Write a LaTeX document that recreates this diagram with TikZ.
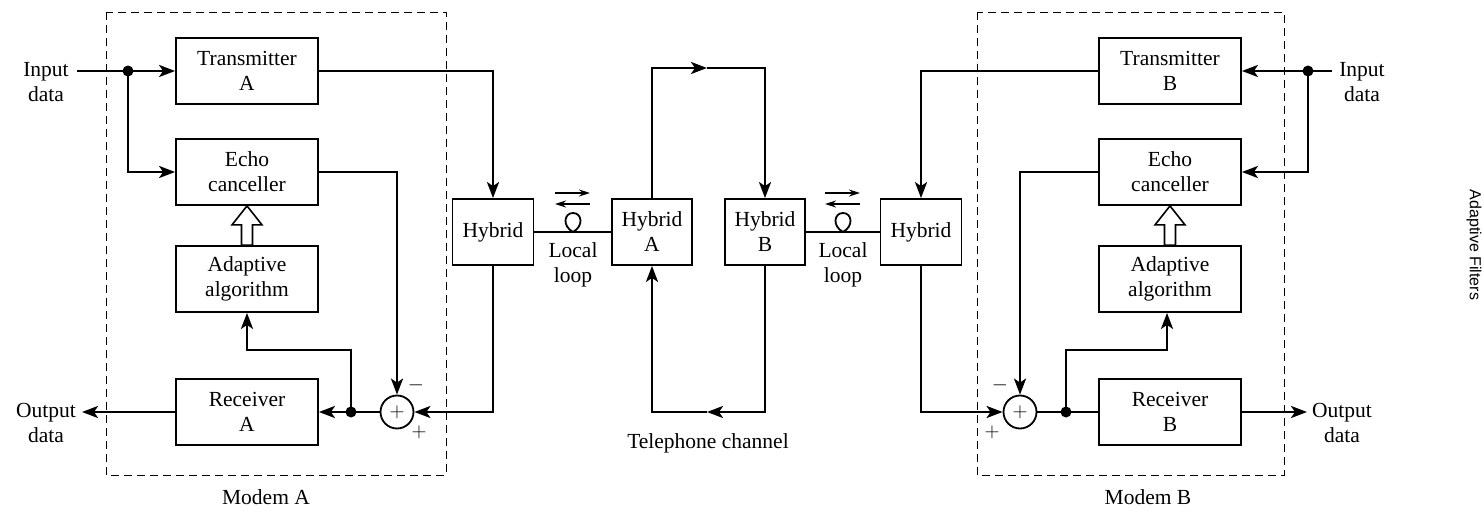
\documentclass[tikz,border=0pt]{standalone}
\usepackage{fontspec}
\setmainfont{Liberation Serif}
\newfontfamily\sidefont{Liberation Sans}
\usetikzlibrary{arrows.meta,calc}
\begin{document}
\begin{tikzpicture}[x=1pt,y=-1pt,
  every node/.style={font=\fontsize{21.5}{25}\selectfont},
  blk/.style={draw,line width=1.8pt,minimum width=142pt,minimum height=66pt,align=center,inner sep=0pt},
  hyb/.style={draw,line width=1.8pt,minimum width=81pt,minimum height=66pt,align=center,inner sep=0pt},
  sumc/.style={draw,circle,line width=1.8pt,minimum size=33pt,inner sep=0pt},
  lbl/.style={align=center,inner sep=0pt},
  conn/.style={line width=2.6pt,-{Stealth[length=16pt,width=12pt,inset=4pt]}},
  wire/.style={line width=2.6pt},
  thinw/.style={line width=1.8pt},
  tarr/.style={line width=1.4pt,-{Stealth[length=11pt,width=7pt]}},
  modem/.style={line width=0.8pt,dash pattern=on 8pt off 5pt},
  hollow/.style={line width=1.6pt,fill=white},
  dot/.style={circle,fill,inner sep=0pt,minimum size=11pt}]
\useasboundingbox (0,0) rectangle (1484,513);
% modem boxes
\draw[modem] (106,12) rectangle (446,475);
\draw[modem] (977,12) rectangle (1284,475);
\node[lbl] (mA) at (266,497) {Modem A};
\node[lbl] (mB) at (1148,497) {Modem B};
% modem A blocks
\node[blk] (tA) at (247,71) {Transmitter\\A};
\node[blk] (eA) at (247,172) {Echo\\canceller};
\node[blk] (aA) at (247,279) {Adaptive\\algorithm};
\node[blk] (rA) at (247,412) {Receiver\\A};
\node[sumc] (sA) at (397,412) {$+$};
% modem B blocks
\node[blk] (tB) at (1170,71) {Transmitter\\B};
\node[blk] (eB) at (1170,172) {Echo\\canceller};
\node[blk] (aB) at (1170,279) {Adaptive\\algorithm};
\node[blk] (rB) at (1170,412) {Receiver\\B};
\node[sumc] (sB) at (1020,412) {$+$};
% hybrids
\node[hyb] (hL) at (493,232) {Hybrid};
\node[hyb,minimum width=80pt] (hA) at (652,232) {Hybrid\\A};
\node[hyb,minimum width=80pt] (hB) at (765,232) {Hybrid\\B};
\node[hyb] (hR) at (921,232) {Hybrid};
% labels
\node[lbl] (inAl) at (46,82) {Input\\data};
\node[lbl] (outAl) at (46,423) {Output\\data};
\node[lbl] (inBl) at (1362,82) {Input\\data};
\node[lbl] (outBl) at (1342,423) {Output\\data};
\node[lbl] (llA) at (573,265) {Local\\loop};
\node[lbl] (llB) at (843,265) {Local\\loop};
\node[lbl] (tel) at (708,443) {Telephone channel};
\node[lbl] (mAm) at (416,385) {$-$};
\node[lbl] (mAp) at (419,432) {$+$};
\node[lbl] (mBm) at (1000,385) {$-$};
\node[lbl] (mBp) at (992,432) {$+$};
\node[lbl,rotate=-90,font=\sidefont\fontsize{16}{18}\selectfont] (side) at (1474,245) {Adaptive Filters};
% coordinates
\coordinate (inA) at (77,71);
\coordinate (outA) at (82,412);
\coordinate (inB) at (1332,71);
\coordinate (outB) at (1307,412);
\node[dot] (dA) at (128,71) {};
\node[dot] (dB) at (1308,71) {};
\node[dot] (fA) at (351,412) {};
\node[dot] (fB) at (1066,412) {};
\coordinate (tcT) at (707,68);
\coordinate (tcB) at (707,412);
% modem A connections
\draw[conn] (inA) -- (tA.west);
\draw[conn] (dA.center) |- (eA.west);
\draw[conn] (tA.east) -| (hL.north);
\draw[conn] (hL.south) |- (sA.east);
\draw[conn] (eA.east) -| (sA.north);
\draw[conn] (sA.west) -- (rA.east);
\draw[conn] (fA.center) -- ++(0,-62) -| (aA.south);
\draw[conn] (rA.west) -- (outA);
% modem B connections
\draw[conn] (inB) -- (tB.east);
\draw[conn] (dB.center) |- (eB.east);
\draw[conn] (tB.west) -| (hR.north);
\draw[conn] (hR.south) |- (sB.west);
\draw[conn] (eB.west) -| (sB.north);
\draw[wire] (sB.east) -- (rB.west);
\draw[conn] (fB.center) -- ++(0,-62) -| ([xshift=-3pt]aB.south);
\draw[conn] (rB.east) -- (outB);
% telephone channel
\draw[conn] (hA.north) |- (tcT);
\draw[conn] (tcT) -| (hB.north);
\draw[conn] (hB.south) |- (tcB);
\draw[conn] (tcB) -| (hA.south);
% local loops
\draw[thinw] (hL.east) -- (hA.west);
\draw[thinw] (hB.east) -- (hR.west);
\draw[thinw] (573,232) .. controls (562,226) and (564,213) .. (573,213) .. controls (582,213) and (584,226) .. (573,232);
\draw[thinw] (843,232) .. controls (832,226) and (834,213) .. (843,213) .. controls (852,213) and (854,226) .. (843,232);
\draw[tarr] (555,193) -- (590,193);
\draw[tarr] (590,204) -- (555,204);
\draw[tarr] (825,193) -- (860,193);
\draw[tarr] (860,204) -- (825,204);
% hollow arrows
\foreach \e/\a in {eA/aA,eB/aB}{
  \draw[hollow] (\e.south) -- ++(15,19) -- ++(-9.5,0) -- ($(\a.north)+(5.5,0)$) -- ($(\a.north)+(-5.5,0)$) -- ($(\e.south)+(-5.5,19)$) -- ++(-9.5,0) -- cycle;
}
\end{tikzpicture}
\end{document}
